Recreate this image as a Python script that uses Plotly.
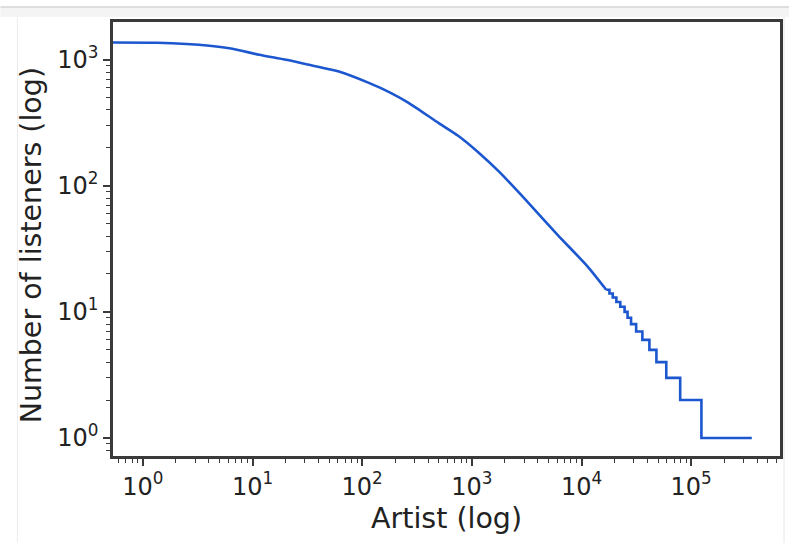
import plotly.graph_objects as go

# Smooth part of the rank curve (artist rank, number of listeners)
curve_rank = [0.534, 1.34, 2.5, 4.05, 6.56, 11.5, 20.3, 34.9, 61.3, 115, 180, 265,
              496, 750, 1143, 1780, 3160, 6080, 11380, 16800]
curve_listeners = [1371, 1365, 1335, 1291, 1222, 1097, 1000, 901, 807, 656, 550, 456,
                   316, 250, 185, 129, 76, 40.7, 22.9, 15]

# Stepped tail (integer listener counts)
step_rank = [16800, 17980, 19270, 20800, 22570, 24700, 26300, 28300, 31500, 35900,
             41600, 48200, 59300, 79400, 124000, 357000]
step_listeners = [15, 14, 13, 12, 11, 10, 9, 8, 7, 6, 5, 4, 3, 2, 1, 1]

x_tick_vals = [1, 10, 100, 1000, 10000, 100000]
x_tick_text = ["10<sup>0</sup>", "10<sup>1</sup>", "10<sup>2</sup>",
               "10<sup>3</sup>", "10<sup>4</sup>", "10<sup>5</sup>"]
y_tick_vals = [1, 10, 100, 1000]
y_tick_text = ["10<sup>0</sup>", "10<sup>1</sup>", "10<sup>2</sup>", "10<sup>3</sup>"]

x_minor = [m * 10 ** k for k in range(-1, 6) for m in range(2, 10)]
y_minor = [m * 10 ** k for k in range(-1, 4) for m in range(2, 10)]

line_color = "#1c57cf"
frame_color = "#3a3a3a"
font_family = "DejaVu Sans"
text_color = "#222222"

fig = go.Figure()
fig.add_trace(go.Scatter(x=curve_rank, y=curve_listeners, mode="lines",
                         line=dict(color=line_color, width=2.6, shape="spline",
                                   smoothing=0.6),
                         showlegend=False))
fig.add_trace(go.Scatter(x=step_rank, y=step_listeners, mode="lines",
                         line=dict(color=line_color, width=2.6, shape="hv"),
                         showlegend=False))

axis_common = dict(
    type="log", showgrid=False, zeroline=False,
    showline=True, mirror=True, linecolor=frame_color, linewidth=2.5,
    ticks="outside", ticklen=7, tickwidth=1.5, tickcolor=frame_color,
    tickfont=dict(family=font_family, size=24, color=text_color),
)

fig.update_xaxes(**axis_common, range=[-0.272, 5.81],
                 tickmode="array", tickvals=x_tick_vals, ticktext=x_tick_text,
                 minor=dict(tickmode="array", tickvals=x_minor, ticks="outside",
                            ticklen=4, tickwidth=1.2, tickcolor=frame_color))
fig.update_yaxes(**axis_common, range=[-0.143, 3.30],
                 tickmode="array", tickvals=y_tick_vals, ticktext=y_tick_text,
                 minor=dict(tickmode="array", tickvals=y_minor, ticks="outside",
                            ticklen=4, tickwidth=1.2, tickcolor=frame_color))

title_font = dict(family=font_family, size=28.5, color=text_color)

fig.update_layout(
    width=792, height=543,
    margin=dict(l=113, r=9, t=22, b=87),
    paper_bgcolor="white", plot_bgcolor="white",
    font=dict(family=font_family),
    annotations=[
        dict(text="Artist (log)", xref="paper", yref="paper", x=0.5, y=-0.143,
             xanchor="center", yanchor="middle", showarrow=False, font=title_font),
        dict(text="Number of listeners (log)", xref="paper", yref="paper",
             x=-0.1225, y=0.486, textangle=-90, xanchor="center", yanchor="middle",
             showarrow=False, font=title_font),
    ],
    shapes=[
        dict(type="rect", xref="paper", yref="paper", x0=-0.1687, x1=1.0134,
             y0=1.0115, y1=1.0346, fillcolor="#f4f4f4", line=dict(width=0),
             layer="below"),
        dict(type="line", xref="paper", yref="paper", x0=-0.1687, x1=1.0134,
             y0=1.0346, y1=1.0346, line=dict(color="#d4d4d4", width=1.5)),
        dict(type="line", xref="paper", yref="paper", x0=-0.1433, x1=-0.1433,
             y0=-0.2005, y1=1.0115, line=dict(color="#ececec", width=1)),
        dict(type="line", xref="paper", yref="paper", x0=1.006, x1=1.006,
             y0=-0.2005, y1=1.0115, line=dict(color="#e6e6e6", width=1)),
    ],
)

fig.write_html("out.html")
